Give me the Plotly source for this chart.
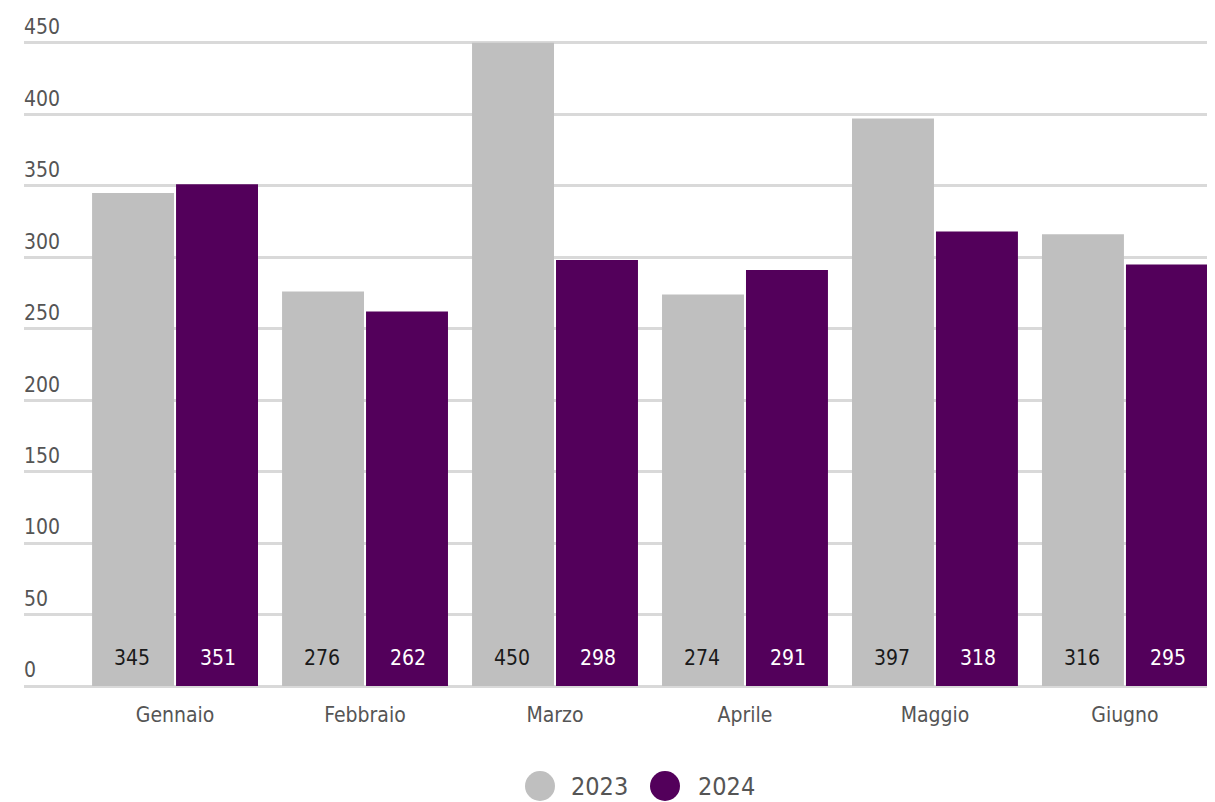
import plotly.graph_objects as go

categories = ["Gennaio", "Febbraio", "Marzo", "Aprile", "Maggio", "Giugno"]
series_names = ["2023", "2024"]
values_2023 = [345, 276, 450, 274, 397, 316]
values_2024 = [351, 262, 298, 291, 318, 295]
y_ticks = [0, 50, 100, 150, 200, 250, 300, 350, 400, 450]
y_max = 452

FONT = "DejaVu Sans Condensed, Liberation Sans Narrow, Roboto, sans-serif"
GRAY = "#bfbfbf"
PURPLE = "#53005b"
TXT = "#555555"
GRID = "#d9d9d9"

# page body has an 8px default margin; size the figure so the plot area
# lands at page x 24..1215, and value 0..450 at page y 686..43
OFF = 8
W, H = 1215 - OFF, 802 - OFF
B = 116
PH_450 = 643
PH = round(PH_450 * y_max / 450)
L, R, T = 24 - OFF, 0, H - B - PH
PW = W - L - R


def px_x(page_px):
    return (page_px - OFF - L) / PW


def px_y(page_py):
    return (H - B - (page_py - OFF)) / PH


fig = go.Figure()
colors = [GRAY, PURPLE]
text_colors = ["#1a1a1a", "#ffffff"]
label_xshift = [-43, 43]
for name, vals, col, tcol, xs in zip(series_names, [values_2023, values_2024],
                                     colors, text_colors, label_xshift):
    fig.add_trace(go.Bar(
        x=categories, y=vals, name=name, marker=dict(color=col, line=dict(width=0)),
        showlegend=False, hovertemplate="%{x}: %{y}<extra>" + name + "</extra>",
    ))
    for cat, v in zip(categories, vals):
        fig.add_annotation(x=cat, y=0, xref="x", yref="y", text=str(v),
                           showarrow=False, xshift=xs, yshift=28,
                           xanchor="center", yanchor="middle",
                           font=dict(family=FONT, size=21, color=tcol))

# custom legend with large circles
legend_circle_px = [540, 665]
legend_text_px = [569, 696]
leg_y = px_y(786)
for name, col, cx, tx in zip(series_names, colors, legend_circle_px, legend_text_px):
    fig.add_shape(type="circle", xref="paper", yref="paper",
                  xsizemode="pixel", ysizemode="pixel",
                  xanchor=px_x(cx), yanchor=leg_y, x0=-15, x1=15, y0=-15, y1=15,
                  fillcolor=col, line=dict(width=0))
    fig.add_annotation(text=name, xref="paper", yref="paper", x=px_x(tx), y=leg_y,
                       xanchor="left", yanchor="middle", showarrow=False,
                       font=dict(family=FONT, size=25, color=TXT))

fig.update_layout(
    width=W, height=H,
    margin=dict(l=L, r=R, t=T, b=B),
    paper_bgcolor="white", plot_bgcolor="white",
    barmode="group", bargap=0.116, bargroupgap=0.024,
    showlegend=False,
    font=dict(family=FONT, color=TXT),
    xaxis=dict(range=[-0.795, 5.474], showgrid=False, showline=False, zeroline=False,
               ticks="", tickfont=dict(family=FONT, size=21, color=TXT),
               ticklabelstandoff=14, automargin=False),
    yaxis=dict(range=[0, y_max], tickvals=y_ticks, showgrid=True, gridcolor=GRID,
               gridwidth=2.5, zeroline=True, zerolinecolor=GRID, zerolinewidth=2.5,
               showline=False,
               ticklabelposition="inside", ticklabelshift=-16, ticklabeloverflow="allow",
               ticklabelstandoff=-3, automargin=False,
               tickfont=dict(family=FONT, size=21, color=TXT)),
)

fig.write_html("out.html")
